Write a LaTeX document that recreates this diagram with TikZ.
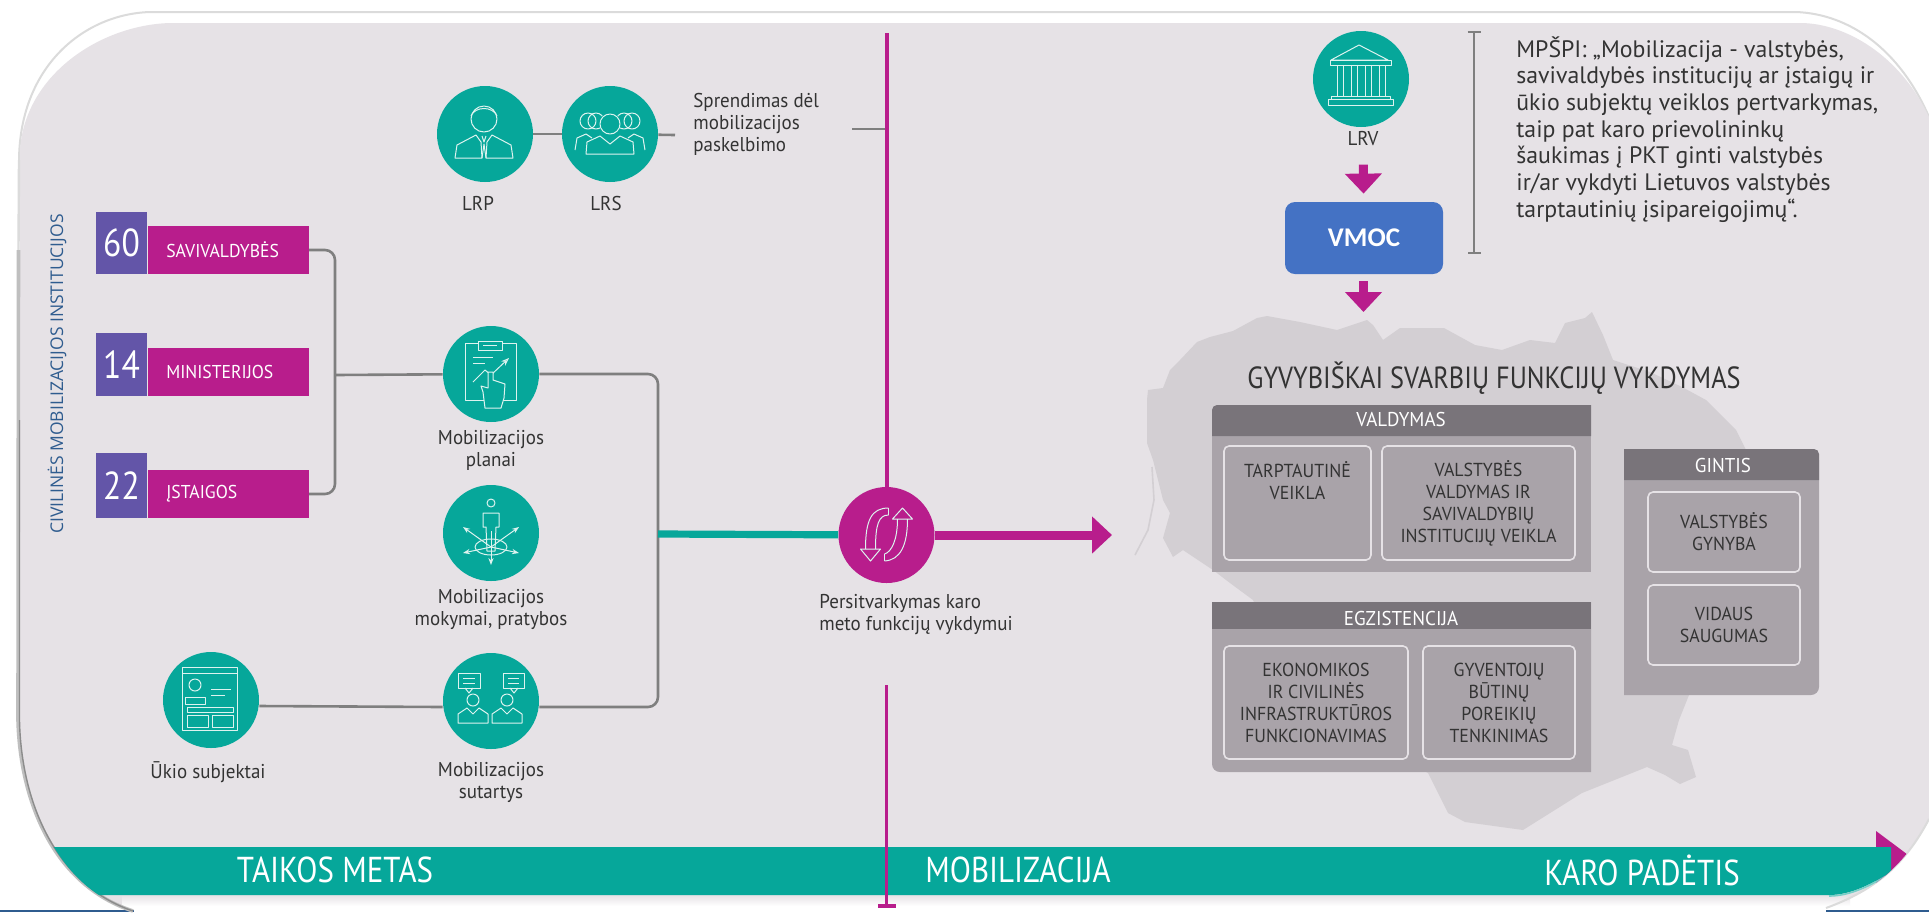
\documentclass[tikz,border=0pt]{standalone}
\usepackage{fontspec}
\usepackage{color}
\usepackage{tikz}
\usetikzlibrary{arrows.meta,positioning}
\setmainfont{PT Sans}
\newfontfamily\narrow[FakeStretch=0.86]{PT Sans}
\newfontfamily\labelface[FakeStretch=0.95]{PT Sans}
\newfontfamily\wideface{Open Sans}
\newfontfamily\boxface{Carlito}
\definecolor{panelc}{HTML}{E6E2E6}
\definecolor{mapc}{HTML}{D3CFD3}
\definecolor{tealc}{HTML}{06A79A}
\definecolor{magc}{HTML}{B81D8C}
\definecolor{purpc}{HTML}{6355A8}
\definecolor{headc}{HTML}{79747A}
\definecolor{bodyc}{HTML}{A9A3A9}
\definecolor{inkc}{HTML}{333333}
\definecolor{linec}{HTML}{7F7F7F}
\definecolor{iconc}{HTML}{DDF3EF}
\definecolor{vmocc}{HTML}{4472C4}
\definecolor{edgec}{HTML}{2F5C8F}
\def\panelpath{(170,23) -- (1800,23) .. controls (1845,23) and (1900,55) .. (1929,117) -- (1929,819) .. controls (1905,865) and (1875,890) .. (1830,906) -- (120,906) .. controls (55,880) and (22,800) .. (20,720) -- (20,150) .. controls (25,75) and (100,25) .. (170,23) -- cycle}

\begin{document}
\begin{tikzpicture}[x=0.5pt,y=-0.5pt,node distance=34.5pt]
	\tikzstyle{place teal}=[circle, fill=tealc, minimum size=48pt, inner sep=0pt]
	\tikzstyle{place mag}=[circle, fill=magc, minimum size=48pt, inner sep=0pt]
	\tikzstyle{num box}=[rectangle, fill=purpc, text=white, minimum width=25.5pt, inner sep=0pt, font=\narrow\fontsize{19.5}{20}\selectfont]
	\tikzstyle{cat box}=[rectangle, fill=magc, text=white, anchor=south west, minimum width=80.5pt, minimum height=24pt, inner sep=0pt, text width=62pt, align=left, font=\labelface\fontsize{9.3}{10}\selectfont]
	\tikzstyle{label}=[text=inkc, inner sep=0pt, align=center, font=\labelface\fontsize{10}{11}\selectfont]
	\tikzstyle{inner box}=[rectangle, rounded corners=2.5pt, draw=panelc, line width=0.8pt, inner sep=0pt, align=center, text=inkc, font=\labelface\fontsize{9.4}{11}\selectfont]
	\tikzstyle{head text}=[text=white, inner sep=0pt, font=\labelface\fontsize{10}{11}\selectfont]
	\tikzstyle{band text}=[text=white, inner sep=0pt, font=\narrow\fontsize{18}{18}\selectfont]
	\tikzstyle{link}=[draw=linec, line width=1.3pt, rounded corners=5pt]
	\tikzstyle{pink line}=[draw=magc, line width=2pt]
	\tikzstyle{block arrow}=[draw=magc, line width=4.5pt, -{Triangle[length=10pt,width=18pt]}]
	\tikzstyle{icon}=[draw=iconc, line width=0.5pt, line join=round]
	\useasboundingbox (0,0) rectangle (1929,912);

	% frame and panel
	\fill [white] (0,0) rectangle (1929,912);
	\draw [draw=black!14, line width=1pt] (19,160) .. controls (20,65) and (85,14) .. (150,12) -- (1796,12) .. controls (1850,14) and (1900,50) .. (1929,117);
	\fill [edgec] (0,910) rectangle (134,912);
	\fill [edgec] (1826,910) rectangle (1929,912);
	\fill [panelc] \panelpath;
	\shade [top color=panelc, bottom color=white] (122,895) rectangle (1850,906);
	\draw [draw=black!14, line width=1.2pt] (19,160) -- (18.5,250);
	\draw [draw=black!25, line width=1.8pt] (18.5,250) -- (18,720) .. controls (20,800) and (53,885) .. (133,911);
	\draw [draw=black!45, line width=0.7pt] (19.5,420) -- (19.5,720) .. controls (21,800) and (54,884) .. (133,911);
	\draw [draw=black!14, line width=1pt] (1929,819) .. controls (1905,865) and (1875,890) .. (1826,908);

	% map
	\fill [mapc] (1148,390) -- (1163,388) -- (1170,370) -- (1180,360) -- (1197,342) -- (1210,337) -- (1233,331) -- (1257,318) -- (1267,316) -- (1300,322) -- (1337,330) -- (1367,320) -- (1373,325) -- (1383,340) -- (1400,328) -- (1444,328) -- (1475,345) -- (1502,350) -- (1530,340) -- (1555,343) -- (1565,323) -- (1585,318) -- (1592,312) -- (1603,335) -- (1613,360) -- (1650,372) -- (1682,387) -- (1706,400) -- (1736,430) -- (1746,450) -- (1746,520) -- (1720,620) -- (1689,695) -- (1679,720) -- (1672,745) -- (1688,750) -- (1696,777) -- (1680,784) -- (1665,775) -- (1647,767) -- (1582,793) -- (1523,830) -- (1465,822) -- (1448,813) -- (1428,773) -- (1300,700) -- (1253,600) -- (1230,583) -- (1213,570) -- (1183,550) -- (1173,557) -- (1163,538) -- (1170,513) -- (1163,500) -- (1153,460) -- (1147,443) -- (1147,400) -- cycle;
	\draw [draw=mapc, line width=0.8pt] (1152,467) -- (1154,500) -- (1148,530) -- (1135,555);

	% bottom band
	\begin{scope}
		\clip \panelpath;
		\fill [magc] (1876,831) -- (1935,875) -- (1876,910) -- cycle;
		\fill [tealc] (0,847) -- (1891,847) -- (1891,872) .. controls (1870,885) and (1850,895) .. (1829,895) -- (0,895) -- cycle;
		\draw [draw=tealc!55!white, line width=0.8pt] (1891,873) .. controls (1870,886) and (1850,896) .. (1829,896);
	\end{scope}
	\node [band text] (peace) at (335,870) {TAIKOS METAS};
	\node [band text] (mobil) at (1018,870) {MOBILIZACIJA};
	\node [band text] (war) at (1642,870) {KARO PADĖTIS};

	% left column
	\node [rotate=90, text=edgec, inner sep=0pt, font=\wideface\fontsize{8.75}{9}\selectfont] (civil) at (57,374) {CIVILINĖS MOBILIZACIJOS INSTITUCIJOS};
	\node [num box, minimum height=31pt] (n60) at (121.5,243) {60};
	\node [cat box] (sav) at (n60.south east) {SAVIVALDYBĖS};
	\node [num box, minimum height=31.5pt] (n14) at (121.5,364.5) {14};
	\node [cat box] (min) at (n14.south east) {MINISTERIJOS};
	\node [num box, minimum height=32.5pt] (n22) at (121.5,485.5) {22};
	\node [cat box] (ist) at (n22.south east) {ĮSTAIGOS};

	% circles
	\node [place teal] (lrp) at (485,134) {};
	\node [place teal] (lrs) at (610,134) {};
	\node [place teal] (plan) at (491,374) {};
	\node [place teal] (train) at (491,533) {};
	\node [place teal] (sut) at (491,701) {};
	\node [place teal] (uk) at (211,700) {};
	\node [place teal] (lrv) at (1361,79) {};
	\node [place mag] (cyc) at (886.5,535) {};
	\node [label] (lrpl) [below of=lrp, xshift=-3.5pt] {LRP};
	\node [label] (lrsl) [below of=lrs, xshift=-2pt] {LRS};
	\node [label, below of=plan, node distance=38pt] (planl) {Mobilizacijos\\planai};
	\node [label, below of=train, node distance=38pt] (trainl) {Mobilizacijos\\mokymai, pratybos};
	\node [label, below of=sut, node distance=40.5pt] (sutl) {Mobilizacijos\\sutartys};
	\node [label, below of=uk, node distance=36pt, xshift=-1.5pt] (ukl) {Ūkio subjektai};
	\node [label, below of=lrv, node distance=30pt, xshift=1pt] (lrvl) {LRV};
	\node [label, align=left, anchor=west] (cycl) at (819,614.5) {Persitvarkymas karo\\meto funkcijų vykdymui};
	\node [label, align=left, anchor=west] (spr) at (693,124) {Sprendimas dėl\\mobilizacijos\\paskelbimo};

	% connectors
	\coordinate (joint) at (335,375);
	\coordinate (bus) at (658,534);
	\coordinate (top) at (886.5,33);
	\coordinate (lowtop) at (886.5,685);
	\coordinate (lowend) at (886.5,908);
	\coordinate (stub) at (675,135);
	\coordinate (sprline) at (852,129);
	\coordinate (tip) at (1112,535);
	\draw [link] (sav.east) -| (joint) |- (ist.east);
	\draw [link] (joint) -- (plan);
	\draw [link] (plan.east) -| (bus) |- ([yshift=-3pt]sut.east);
	\draw [link] ([yshift=-3pt]uk.east) -- ([yshift=-3pt]sut.west);
	\draw [link] (lrp) -- (lrs);
	\draw [link] (lrs) -- (stub);
	\draw [link, line width=1pt] (sprline) -- (sprline -| top);
	\draw [draw=tealc, line width=3.6pt] (bus) -- (cyc);
	\draw [pink line] (top) -- (cyc);
	\draw [pink line, line width=1.6pt, -{Bar[width=9pt,line width=2pt]}] (lowtop) -- (lowend);
	\draw [block arrow] (cyc) -- (tip);

	% LRV, VMOC and the quote
	\node [rectangle, rounded corners=5pt, fill=vmocc, text=white, minimum width=79pt, minimum height=36pt, inner sep=0pt, font=\boxface\bfseries\fontsize{13.5}{14}\selectfont] (vmoc) at (1364,238) {VMOC};
	\node [text=inkc, inner sep=0pt, font=\narrow\fontsize{15.3}{16}\selectfont] (title) at (1494,378) {GYVYBIŠKAI SVARBIŲ FUNKCIJŲ VYKDYMAS};
	\draw [block arrow, shorten <=9pt, shorten >=4pt] (lrvl) -- (vmoc);
	\draw [block arrow] (vmoc.south) ++(-0.5,7) coordinate (vmocout) -- (vmocout |- 0,312);
	\coordinate (brtop) at (1474,31);
	\coordinate (brend) at (1474,254);
	\draw [draw=linec, line width=1pt, {Bar[width=6.5pt,line width=1.2pt]}-{Bar[width=6.5pt,line width=1.2pt]}] (brtop) -- (brend);
	\node [anchor=north west, inner sep=0pt, align=left, text=inkc, font=\fontsize{11.9}{13.35}\selectfont] (quote) at (1516,36) {MPŠPI: „Mobilizacija - valstybės,\\savivaldybės institucijų ar įstaigų ir\\ūkio subjektų veiklos pertvarkymas,\\taip pat karo prievolininkų\\šaukimas į PKT ginti valstybės\\ir/ar vykdyti Lietuvos valstybės\\tarptautinių įsipareigojimų“.};

	% VALDYMAS
	\fill [bodyc] (1212,420) rectangle (1591,572);
	\fill [headc, rounded corners=2.5pt] (1212,436) -- (1212,405) [sharp corners] -- (1591,405) -- (1591,436) -- cycle;
	\node [head text] (valh) at (1401,419) {VALDYMAS};
	\node [inner box, minimum width=73.5pt, minimum height=57pt] (tarp) at (1297.5,503) {TARPTAUTINĖ\\VEIKLA\\~\\~};
	\node [inner box, minimum width=96.5pt, minimum height=57pt] (valv) at (1478.5,503) {VALSTYBĖS\\VALDYMAS IR\\SAVIVALDYBIŲ\\INSTITUCIJŲ VEIKLA};
	% EGZISTENCIJA
	\fill [bodyc] (1591,602) -- (1591,772) [rounded corners=4pt] -- (1212,772) [sharp corners] -- (1212,602) -- cycle;
	\fill [headc] (1212,602) rectangle (1591,629);
	\node [head text] (egzh) at (1401,618) {EGZISTENCIJA};
	\node [inner box, minimum width=92pt, minimum height=56.5pt] (eko) at (1316,702.5) {EKONOMIKOS\\IR CIVILINĖS\\INFRASTRUKTŪROS\\FUNKCIONAVIMAS};
	\node [inner box, minimum width=76pt, minimum height=56.5pt] (gyv) at (1499,702.5) {GYVENTOJŲ\\BŪTINŲ\\POREIKIŲ\\TENKINIMAS};
	% GINTIS
	\fill [bodyc] (1624,460) -- (1819,460) [rounded corners=4pt] -- (1819,695) [sharp corners] -- (1624,695) -- cycle;
	\fill [headc] (1624,480) -- (1624,449) [rounded corners=2.5pt] -- (1819,449) [sharp corners] -- (1819,480) -- cycle;
	\node [head text] (ginh) at (1723,465) {GINTIS};
	\node [inner box, minimum width=76pt, minimum height=40pt] (gyn) at (1724,532) {VALSTYBĖS\\GYNYBA};
	\node [inner box, minimum width=76pt, minimum height=40pt] (vid) at (1724,625) {VIDAUS\\SAUGUMAS};

	% icons
	\begin{scope}[shift={(lrp.center)},icon]
		\draw (-1,-15) circle [x radius=13,y radius=13];
		\draw (-14,-18) .. controls (-10,-28) and (8,-28) .. (12,-18);
		\draw (-30,24) -- (-28,11) -- (-9,1) -- (-4,8) -- (-3,24) -- cycle;
		\draw (28,24) -- (26,11) -- (7,1) -- (2,8) -- (1,24) -- cycle;
		\draw (-3,2) -- (-1,8) -- (1,2);
		\draw (-3,24) -- (-1,10) -- (1,24);
	\end{scope}
	\begin{scope}[shift={(lrs.center)},icon]
		\foreach \hx in {-22,-14,14,22} \draw (\hx,-13) circle [radius=8];
		\fill [tealc] (0,-10) circle [radius=11];
		\draw (0,-10) circle [radius=10];
		\draw (-35,16) -- (-33,4) -- (-24,0) -- (-18,4);
		\draw (35,16) -- (33,4) -- (24,0) -- (18,4);
		\draw (-24,20) -- (-23,8) -- (-10,2) -- (0,10) -- (10,2) -- (23,8) -- (24,20) -- cycle;
	\end{scope}
	\begin{scope}[shift={(plan.center)},icon]
		\draw (-26,-31) rectangle (25,26);
		\draw [fill=tealc] (-13,-33) rectangle (11,-24);
		\draw (-8,-28.5) -- (6,-28.5);
		\draw (-18,-17) -- (2,-17);
		\draw (-18,-11) -- (-6,-11);
		\draw [-{Stealth[length=4pt,open]}] (-18,8) -- (-6,-4) -- (0,1) -- (18,-16);
		\draw [fill=tealc] (-6,34) -- (-8,18) -- (-10,12) -- (-3,14) -- (-3,-2) -- (2,-2) -- (2,6) -- (14,10) -- (13,24) -- (10,34) -- cycle;
	\end{scope}
	\begin{scope}[shift={(train.center)},icon]
		\draw (0,-30) circle [radius=4];
		\draw (-8,-6) -- (-8,-20) -- (8,-20) -- (8,-6) -- (5,-6) -- (4,18) -- (-4,18) -- (-5,-6) -- cycle;
		\draw (0,-2) -- (0,18);
		\draw (0,14) ellipse [x radius=16,y radius=8];
		\foreach \ax/\ay in {-28/-6,28/-6,-28/20,28/20,0/32} \draw [-{Stealth[length=3.5pt,open]}] (0,14) -- (\ax,\ay);
	\end{scope}
	\begin{scope}[shift={(sut.center)},icon]
		\draw (-33,-28) rectangle (-11,-13);
		\draw (12,-28) rectangle (33,-13);
		\draw (-26,-13) -- (-22,-8) -- (-18,-13);
		\draw (19,-13) -- (23,-8) -- (27,-13);
		\draw (-28,-23) -- (-16,-23) (-28,-18) -- (-16,-18);
		\draw (17,-23) -- (28,-23) (17,-18) -- (28,-18);
		\draw (-18,-1) circle [radius=6];
		\draw (16,-1) circle [radius=6];
		\draw (-33,22) -- (-33,13) -- (-24,7) -- (-18,13) -- (-12,7) -- (-3,13) -- (-3,22) -- cycle;
		\draw (1,22) -- (1,13) -- (10,7) -- (16,13) -- (22,7) -- (31,13) -- (31,22) -- cycle;
	\end{scope}
	\begin{scope}[shift={(uk.center)},icon]
		\draw (-29,-33) rectangle (26,30);
		\draw (-29,-27) -- (26,-27);
		\draw (-16,-15) circle [radius=6];
		\draw (-26,4) -- (-26,-3) -- (-6,-3) -- (-6,4) -- cycle;
		\draw (0,-11) -- (20,-11) (0,-5) -- (14,-5);
		\draw (-24,7) rectangle (22,12);
		\draw (-24,15) rectangle (-3,27);
		\draw (1,15) rectangle (22,27);
	\end{scope}
	\begin{scope}[shift={(lrv.center)},icon]
		\draw (-2,-34) -- (-30,-19) -- (27,-19) -- cycle;
		\draw (-31,-19) rectangle (30,-14);
		\foreach \cx in {-24,-10,4,18} \draw (\cx,-14) rectangle ++(6,31);
		\draw (-30,17) rectangle (29,20);
		\draw (-33,20) rectangle (32,26);
	\end{scope}
	\begin{scope}[shift={(cyc.center)},icon]
		\draw (2,-27) .. controls (-15,-27) and (-21,-15) .. (-21,14);
		\draw (2,-20) .. controls (-8,-20) and (-11,-10) .. (-11,14);
		\draw (2,-27) -- (2,-20);
		\draw (-26,14) -- (-6,14) -- (-16,26) -- cycle;
		\draw (21,-16) .. controls (21,10) and (14,25) .. (-2,26);
		\draw (11,-16) .. controls (11,5) and (5,17) .. (-2,19);
		\draw (-2,26) -- (-2,19);
		\draw (6,-16) -- (26,-16) -- (16,-27) -- cycle;
	\end{scope}
\end{tikzpicture}
\end{document}
